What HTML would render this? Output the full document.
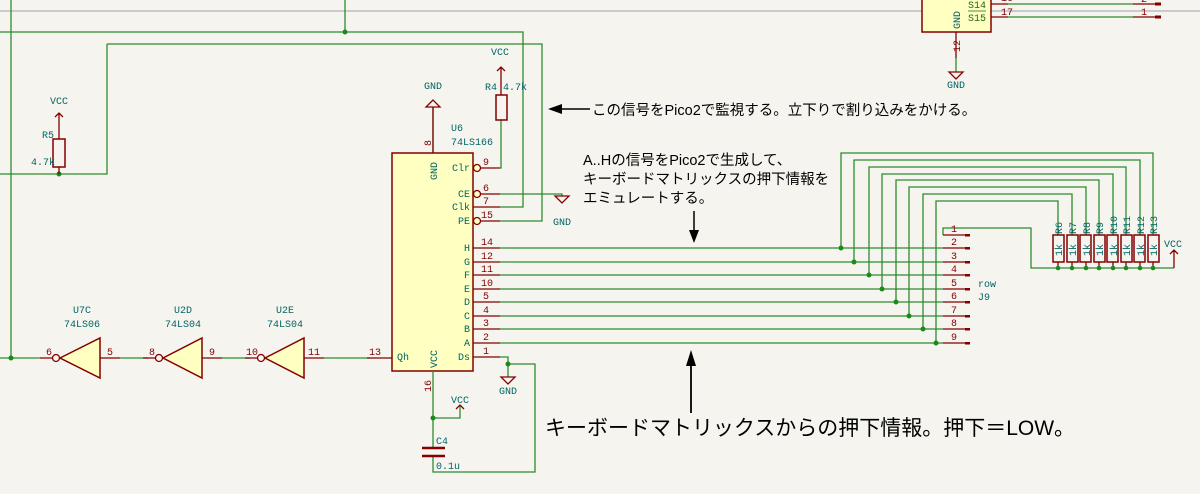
<!DOCTYPE html>
<html><head><meta charset="utf-8"><style>
html,body{margin:0;padding:0;background:#f5f4ef;}
svg{display:block;}
.w{stroke:#2e8b2e;stroke-width:1.3;fill:none;}
.p{stroke:#840000;stroke-width:1.3;fill:none;}
.t{font-family:"Liberation Mono","DejaVu Sans Mono",monospace;font-size:10px;fill:#006464;}
.n{font-family:"Liberation Mono","DejaVu Sans Mono",monospace;font-size:10px;fill:#840000;}
.j{font-family:"Liberation Sans","Noto Sans CJK JP",sans-serif;fill:#000;}
</style></head><body>
<svg width="1200" height="494" viewBox="0 0 1200 494" xmlns="http://www.w3.org/2000/svg">
<rect width="1200" height="494" fill="#f5f4ef"/>
<line x1="0" y1="11" x2="1200" y2="11" stroke="#a0a0a0" stroke-width="1"/>
<!-- wires top-left -->
<path class="w" d="M11 0V358M0 358H40M0 32H523V207H500M345 0V32M107 44H542V221H500M107 44V174H0M500 194H562V196M500 168H501V120M433 107V153"/>
<circle cx="345" cy="32" r="2.5" fill="#1a8a1a"/>
<circle cx="59" cy="174" r="2.5" fill="#1a8a1a"/>
<circle cx="11" cy="358" r="2.5" fill="#1a8a1a"/>
<!-- R5 -->
<path class="p" d="M59 113V139M55 117L59 113L63 117M59 167V174"/>
<rect x="53" y="139" width="12" height="28" fill="none" stroke="#840000" stroke-width="1.5"/>
<text class="t" x="59" y="104" text-anchor="middle">VCC</text>
<text class="t" x="42" y="138">R5</text>
<text class="t" x="31" y="165">4.7k</text>
<!-- U6 -->
<rect x="392" y="153" width="81" height="218" fill="#ffffc2" stroke="#840000" stroke-width="1.5"/>
<path class="p" d="M433 107V153M426 107H440L433 100Z" />
<text class="t" x="433" y="89" text-anchor="middle">GND</text>
<text class="n" transform="translate(431,146) rotate(-90)">8</text>
<text class="t" transform="translate(437,180) rotate(-90)">GND</text>
<text class="t" x="451" y="131">U6</text>
<text class="t" x="451" y="145">74LS166</text>
<!-- R4 -->
<path class="p" d="M501 67V95M497 71L501 67L505 71"/>
<rect x="496" y="95" width="11" height="25" fill="none" stroke="#840000" stroke-width="1.5"/>
<text class="t" x="500" y="55" text-anchor="middle">VCC</text>
<text class="t" x="485" y="90">R4</text><text class="t" x="503" y="90">4.7k</text>
<!-- right pins of U6 -->
<g class="p">
<path d="M481 168H500M481 194H500M473 207H500M481 221H500"/>
<circle cx="477" cy="168" r="3.5" fill="#ffffc2"/><circle cx="477" cy="194" r="3.5" fill="#ffffc2"/><circle cx="477" cy="221" r="3.5" fill="#ffffc2"/>
<path d="M473 248H500M473 262H500M473 275H500M473 289H500M473 302H500M473 316H500M473 329H500M473 343H500M473 357H500"/>
</g>
<g class="t" text-anchor="end">
<text x="470" y="171">Clr</text><text x="470" y="197">CE</text><text x="470" y="210">Clk</text><text x="470" y="224">PE</text>
<text x="470" y="251">H</text><text x="470" y="265">G</text><text x="470" y="278">F</text><text x="470" y="292">E</text><text x="470" y="305">D</text><text x="470" y="319">C</text><text x="470" y="332">B</text><text x="470" y="346">A</text><text x="470" y="360">Ds</text>
</g>
<text class="t" x="397" y="360">Qh</text>
<text class="t" transform="translate(437,368) rotate(-90)">VCC</text>
<g class="n">
<text x="483" y="165">9</text><text x="483" y="191">6</text><text x="483" y="204">7</text><text x="481" y="218">15</text>
<text x="481" y="245">14</text><text x="481" y="259">12</text><text x="481" y="272">11</text><text x="481" y="286">10</text><text x="483" y="299">5</text><text x="483" y="313">4</text><text x="483" y="326">3</text><text x="483" y="340">2</text><text x="483" y="354">1</text>
<text x="369" y="355">13</text>
<text transform="translate(431,392) rotate(-90)">16</text>
</g>
<!-- CE gnd -->
<path class="p" d="M555 196H569L562 203Z"/>
<text class="t" x="562" y="225" text-anchor="middle">GND</text>
<!-- row wires -->
<path class="w" d="M500 248H943M500 262H943M500 275H943M500 289H943M500 302H943M500 316H943M500 329H943M500 343H943"/>
<path class="w" d="M841 248V153H1153V235M854 262V160H1140V235M869 275V167H1126V235M882 289V174H1113V235M896 302V180H1099V235M909 316V187H1086V235M923 329V194H1072V235M936 343V201H1058V235"/>
<g fill="#1a8a1a">
<circle cx="841" cy="248" r="2.5"/><circle cx="854" cy="262" r="2.5"/><circle cx="869" cy="275" r="2.5"/><circle cx="882" cy="289" r="2.5"/><circle cx="896" cy="302" r="2.5"/><circle cx="909" cy="316" r="2.5"/><circle cx="923" cy="329" r="2.5"/><circle cx="936" cy="343" r="2.5"/>
</g>
<!-- J9 -->
<path class="w" d="M943 235V228H1031V268H1174"/>
<g class="p">
<path d="M943 235H970M943 248H970M943 262H970M943 275H970M943 289H970M943 302H970M943 316H970M943 329H970M943 343H970"/>
</g>
<g fill="#840000"><rect x="965" y="234" width="5" height="2.5"/><rect x="965" y="247" width="5" height="2.5"/><rect x="965" y="261" width="5" height="2.5"/><rect x="965" y="274" width="5" height="2.5"/><rect x="965" y="288" width="5" height="2.5"/><rect x="965" y="301" width="5" height="2.5"/><rect x="965" y="315" width="5" height="2.5"/><rect x="965" y="328" width="5" height="2.5"/><rect x="965" y="342" width="5" height="2.5"/></g>
<g class="n"><text x="951" y="232">1</text><text x="951" y="245">2</text><text x="951" y="259">3</text><text x="951" y="272">4</text><text x="951" y="286">5</text><text x="951" y="299">6</text><text x="951" y="313">7</text><text x="951" y="326">8</text><text x="951" y="340">9</text></g>
<text class="t" x="978" y="287">row</text>
<text class="t" x="978" y="300">J9</text>
<!-- resistor array -->
<g>
<g fill="none" stroke="#840000" stroke-width="1.5">
<rect x="1053" y="235" width="11" height="27"/><rect x="1067" y="235" width="11" height="27"/><rect x="1080" y="235" width="11" height="27"/><rect x="1094" y="235" width="11" height="27"/><rect x="1107" y="235" width="11" height="27"/><rect x="1121" y="235" width="11" height="27"/><rect x="1134" y="235" width="11" height="27"/><rect x="1148" y="235" width="11" height="27"/>
</g>
<path class="p" d="M1058 262V268M1072 262V268M1086 262V268M1099 262V268M1113 262V268M1126 262V268M1140 262V268M1153 262V268M1174 268V250M1170 254L1174 250L1178 254"/>
<g fill="#1a8a1a"><circle cx="1058" cy="268" r="2.3"/><circle cx="1072" cy="268" r="2.3"/><circle cx="1086" cy="268" r="2.3"/><circle cx="1099" cy="268" r="2.3"/><circle cx="1113" cy="268" r="2.3"/><circle cx="1126" cy="268" r="2.3"/><circle cx="1140" cy="268" r="2.3"/><circle cx="1153" cy="268" r="2.3"/></g>
<g class="t" font-size="9">
<text transform="translate(1062,234) rotate(-90)">R6</text><text transform="translate(1076,234) rotate(-90)">R7</text><text transform="translate(1090,234) rotate(-90)">R8</text><text transform="translate(1103,234) rotate(-90)">R9</text><text transform="translate(1117,234) rotate(-90)">R10</text><text transform="translate(1130,234) rotate(-90)">R11</text><text transform="translate(1144,234) rotate(-90)">R12</text><text transform="translate(1157,234) rotate(-90)">R13</text>
<text transform="translate(1062,256) rotate(-90)">1k</text><text transform="translate(1076,256) rotate(-90)">1k</text><text transform="translate(1090,256) rotate(-90)">1k</text><text transform="translate(1103,256) rotate(-90)">1k</text><text transform="translate(1117,256) rotate(-90)">1k</text><text transform="translate(1130,256) rotate(-90)">1k</text><text transform="translate(1144,256) rotate(-90)">1k</text><text transform="translate(1157,256) rotate(-90)">1k</text>
</g>
<text class="t" x="1164" y="247">VCC</text>
</g>
<!-- Ds / C4 -->
<path class="w" d="M500 357H508V364H535V472H433V456M508 364V377M433 371V448M433 418H460V405"/>
<circle cx="508" cy="364" r="2.5" fill="#1a8a1a"/>
<circle cx="433" cy="418" r="2.5" fill="#1a8a1a"/>
<path class="p" d="M501 377H515L508 384Z M456 409L460 405L464 409"/>
<text class="t" x="508" y="394" text-anchor="middle">GND</text>
<text class="t" x="460" y="403" text-anchor="middle">VCC</text>
<path d="M422 448H445M422 456H445" stroke="#840000" stroke-width="2.5"/>
<text class="t" x="436" y="444">C4</text>
<text class="t" x="436" y="469">0.1u</text>
<!-- inverters -->
<path class="w" d="M120 358H148M222 358H250M324 358H370"/>
<g class="p">
<path d="M40 358H52M100 358H120M143 358H155M202 358H222M245 358H257M304 358H324M367 358H392"/>
<path d="M60 358L100 338V378Z M163 358L202 338V378Z M265 358L304 338V378Z" fill="#ffffc2" stroke-width="1.5"/>
<circle cx="56" cy="358" r="3.5" fill="#f5f4ef"/><circle cx="159" cy="358" r="3.5" fill="#f5f4ef"/><circle cx="261" cy="358" r="3.5" fill="#f5f4ef"/>
</g>
<g class="n"><text x="46" y="355">6</text><text x="107" y="355">5</text><text x="149" y="355">8</text><text x="209" y="355">9</text><text x="246" y="355">10</text><text x="308" y="355">11</text></g>
<g class="t" text-anchor="middle">
<text x="82" y="313">U7C</text><text x="82" y="327">74LS06</text>
<text x="183" y="313">U2D</text><text x="183" y="327">74LS04</text>
<text x="285" y="313">U2E</text><text x="285" y="327">74LS04</text>
</g>
<!-- top right IC -->
<rect x="922" y="-5" width="69" height="37" fill="#ffffc2" stroke="#840000" stroke-width="1.5"/>
<path class="w" d="M1008 4H1133M1008 17H1133M956 58V72"/>
<path class="p" d="M991 4H1008M991 17H1008M1133 4H1155M1133 17H1155M956 32V58M949 72H963L956 79Z"/>
<rect x="1155" y="2.5" width="6" height="3" fill="#840000"/><rect x="1155" y="15.5" width="6" height="3" fill="#840000"/>
<g font-family="Liberation Mono,monospace" font-size="10" fill="#1a6a1a">
<text x="968" y="8">S14</text><text x="968" y="21">S15</text>
<line x1="968" y1="11" x2="986" y2="11" stroke="#1a6a1a" stroke-width="0.8"/>
</g>
<text class="t" transform="translate(960,29) rotate(-90)">GND</text>
<text class="n" x="1001" y="1">16</text><text class="n" x="1001" y="15">17</text>
<text class="n" x="1141" y="2">2</text><text class="n" x="1141" y="15">1</text>
<text class="n" transform="translate(960,52) rotate(-90)">12</text>
<text class="t" x="956" y="88" text-anchor="middle">GND</text>
<!-- annotations -->
<path d="M590 109H560" stroke="#000" stroke-width="1.5"/>
<path d="M548 109L562 104V114Z" fill="#000"/>
<text class="j" x="592" y="115" font-size="14.5">この信号をPico2で監視する。立下りで割り込みをかける。</text>
<text class="j" x="583" y="165" font-size="14.5">A..Hの信号をPico2で生成して、</text>
<text class="j" x="583" y="184" font-size="14.5">キーボードマトリックスの押下情報を</text>
<text class="j" x="583" y="203" font-size="14.5">エミュレートする。</text>
<path d="M694 211V233" stroke="#000" stroke-width="1.5"/>
<path d="M694 243L689 230H699Z" fill="#000"/>
<path d="M691 413V362" stroke="#000" stroke-width="1.8"/>
<path d="M691 350L686 366H696Z" fill="#000"/>
<text class="j" x="545" y="435" font-size="21" textLength="530" lengthAdjust="spacingAndGlyphs">キーボードマトリックスからの押下情報。押下＝LOW。</text>
</svg>
</body></html>
